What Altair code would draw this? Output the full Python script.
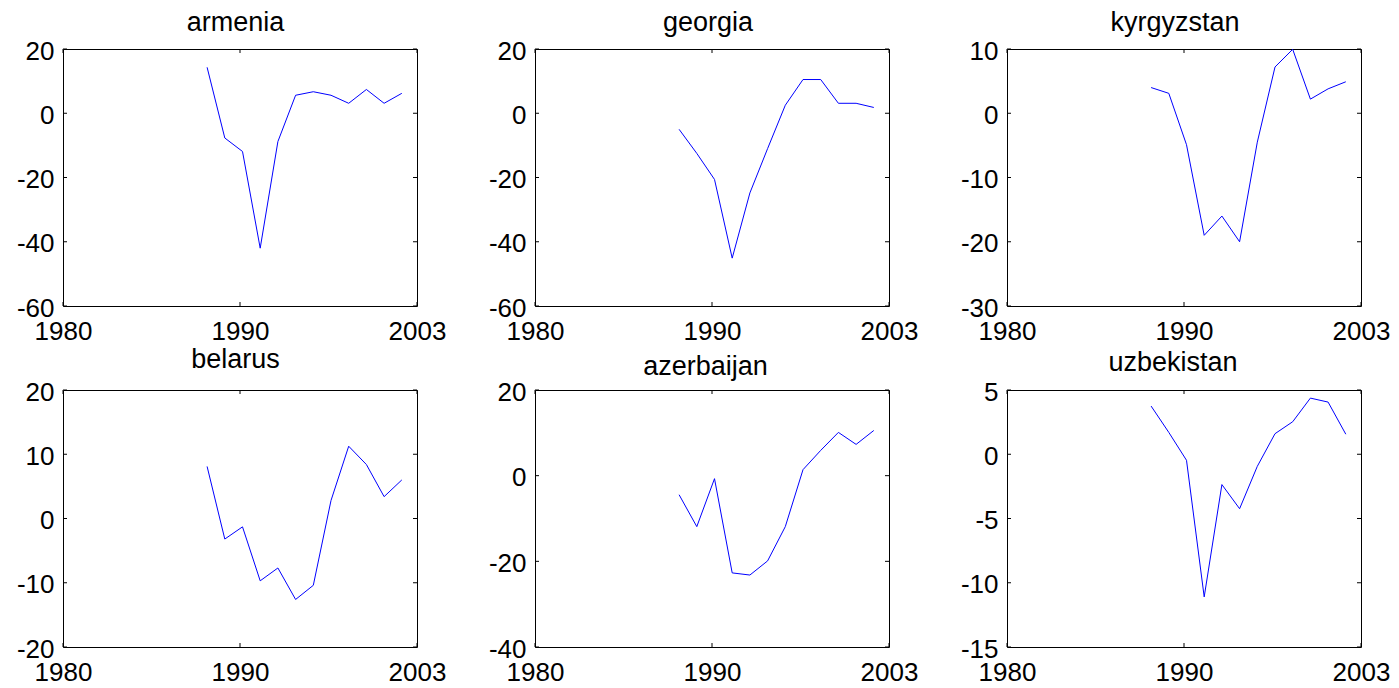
import altair as alt
import pandas as pd

# ---------------- data ----------------
years = list(range(1988, 2000))

armenia = [14.3, -7.7, -11.9, -42.0, -8.8, 5.6, 6.7, 5.6, 3.1, 7.4, 3.1, 6.2]
georgia = [-5.0, -12.5, -20.6, -45.1, -24.8, -11.0, 2.5, 10.5, 10.5, 3.1, 3.1, 1.8]
kyrgyzstan = [4.0, 3.1, -4.9, -19.0, -16.0, -20.0, -4.5, 7.2, 9.95, 2.2, 3.8, 4.9]
belarus = [8.1, -3.2, -1.3, -9.7, -7.7, -12.6, -10.4, 2.8, 11.25, 8.4, 3.4, 6.0]
azerbaijan = [-4.45, -11.9, -0.7, -22.7, -23.2, -19.9, -11.9, 1.4, 5.9, 10.1, 7.3, 10.55]
uzbekistan = [3.75, 1.7, -0.47, -11.1, -2.36, -4.24, -0.94, 1.6, 2.53, 4.37, 4.06, 1.56]

armenia_yticks = [-60, -40, -20, 0, 20]
georgia_yticks = [-60, -40, -20, 0, 20]
kyrgyzstan_yticks = [-30, -20, -10, 0, 10]
belarus_yticks = [-20, -10, 0, 10, 20]
azerbaijan_yticks = [-40, -20, 0, 20]
uzbekistan_yticks = [-15, -10, -5, 0, 5]

x_tick_values = [1980, 1990, 2000]
x_tick_labels = ["1980", "1990", "2003"]

# ---------------- style ----------------
FONT = "Liberation Sans"
W, H = 354, 257
TICK = 4

x_label_expr = "''"
for v, l in reversed(list(zip(x_tick_values, x_tick_labels))):
    x_label_expr = f"datum.value == {v} ? '{l}' : {x_label_expr}"


def panel(name, values, yticks, title_offset, title_dy, title_dx):
    xs = alt.Scale(domain=[x_tick_values[0], x_tick_values[-1]], nice=False, zero=False)
    ys = alt.Scale(domain=[yticks[0], yticks[-1]], nice=False, zero=False)
    xaxis = alt.Axis(values=x_tick_values, labelExpr=x_label_expr, title=None,
                     labelFlush=False, labelOverlap=False)
    yaxis = alt.Axis(values=yticks, labelExpr="'' + datum.value", title=None,
                     labelOverlap=False)
    df = pd.DataFrame({"year": years, "value": values})
    line = alt.Chart(df).mark_line(color="#0000ff", strokeWidth=1, xOffset=2.5).encode(
        x=alt.X("year:Q", scale=xs, axis=xaxis),
        y=alt.Y("value:Q", scale=ys, axis=yaxis),
    )
    ydf = pd.DataFrame({"value": yticks})
    xdf = pd.DataFrame({"year": x_tick_values})
    yl = alt.Chart(ydf).mark_rule(color="black", strokeWidth=1).encode(
        y=alt.Y("value:Q", scale=ys, axis=yaxis), x=alt.value(0), x2=alt.value(TICK))
    yr = alt.Chart(ydf).mark_rule(color="black", strokeWidth=1).encode(
        y=alt.Y("value:Q", scale=ys, axis=yaxis), x=alt.value(W - TICK), x2=alt.value(W))
    xt = alt.Chart(xdf).mark_rule(color="black", strokeWidth=1).encode(
        x=alt.X("year:Q", scale=xs, axis=xaxis), y=alt.value(0), y2=alt.value(TICK))
    xb = alt.Chart(xdf).mark_rule(color="black", strokeWidth=1).encode(
        x=alt.X("year:Q", scale=xs, axis=xaxis), y=alt.value(H - TICK), y2=alt.value(H))
    return alt.layer(line, yl, yr, xt, xb).properties(
        width=W, height=H,
        title=alt.TitleParams(text=name, offset=title_offset, dy=title_dy, dx=title_dx),
    )


panels = [
    panel("armenia", armenia, armenia_yticks, 1, 0, -4.5),
    panel("georgia", georgia, georgia_yticks, 1, 0, -4),
    panel("kyrgyzstan", kyrgyzstan, kyrgyzstan_yticks, 1, 0, -9),
    panel("belarus", belarus, belarus_yticks, 4.6, 0, -4.5),
    panel("azerbaijan", azerbaijan, azerbaijan_yticks, 0, 1.7, -6.5),
    panel("uzbekistan", uzbekistan, uzbekistan_yticks, 2, 0, -11),
]

chart = (
    alt.concat(*panels, columns=3, spacing=alt.RowColnumber(row=84, column=118), bounds="flush")
    .properties(padding={"left": 7, "top": 0, "right": 0, "bottom": 0}, background="white")
    .configure_view(stroke="black", strokeWidth=1)
    .configure_axis(domain=False, ticks=False, tickSize=0, grid=False,
                    labelFont=FONT, labelFontSize=26, labelColor="black")
    .configure_axisY(labelPadding=9, labelOffset=2)
    .configure_axisX(labelPadding=12)
    .configure_title(font=FONT, fontSize=27, fontWeight="normal", color="black",
                     anchor="middle", frame="group")
)

chart.save("out.html", embed_options={"renderer": "svg", "actions": False})
